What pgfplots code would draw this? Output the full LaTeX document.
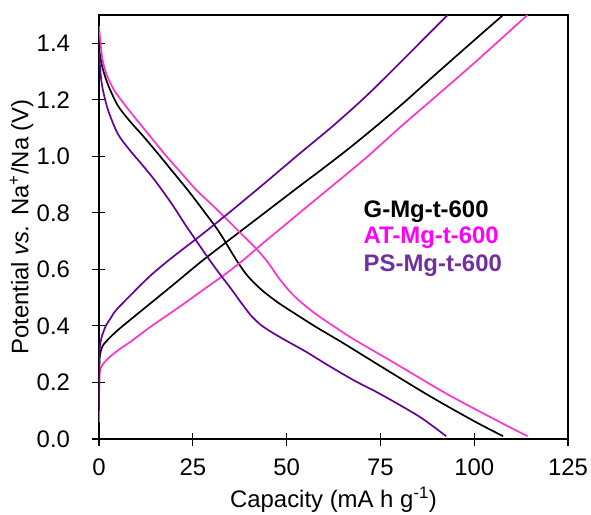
\documentclass[border=0pt]{standalone}
\usepackage{fontspec}
\setmainfont{Liberation Sans}
\usepackage{pgfplots}
\pgfplotsset{compat=1.18}
\definecolor{pinkline}{RGB}{255,51,204}
\definecolor{purpline}{RGB}{102,0,153}
\definecolor{pinktext}{RGB}{255,0,255}
\definecolor{purptext}{RGB}{112,48,160}
\begin{document}
\begin{tikzpicture}
\begin{axis}[
  name=ax,
  scale only axis,
  width=469bp, height=424bp,
  xmin=0, xmax=125, ymin=0, ymax=1.5,
  xtick={0,25,50,75,100,125},
  ytick={0,0.2,0.4,0.6,0.8,1.0,1.2,1.4},
  yticklabel style={/pgf/number format/fixed, /pgf/number format/fixed zerofill, /pgf/number format/precision=1},
  /pgf/number format/assume math mode=true,
  tick align=center,
  major tick length=13bp,
  xtick pos=bottom, ytick pos=left,
  yticklabel shift=19bp,
  xticklabel shift=10bp,
  axis line style={line width=1.1pt},
  every tick/.style={line width=1.1pt, black},
  tick label style={font=\fontsize{24}{28}\selectfont},
  label style={font=\fontsize{24}{28}\selectfont},
  xlabel={Capacity (mA h g\textsuperscript{-1})},
  ylabel={Potential \textit{vs.} Na\textsuperscript{+}/Na (V)},
  xlabel style={at={(axis description cs:0.5,-0.1627)}, anchor=base},
  ylabel style={at={(axis description cs:-0.165,0.5)}, anchor=center},
  clip=true,
]
% G-Mg-t-600 discharge
\addplot[black, line width=1.7pt, smooth] coordinates {
(0,1.39) (0.3,1.355) (1,1.31) (2.5,1.25) (5,1.18) (8,1.128) (12,1.068) (16,1.005) (20,0.94) (24,0.875) (28,0.805) (31,0.752) (33,0.712) (35,0.668) (37,0.625) (39,0.587) (41,0.557) (44,0.52) (48,0.48) (53,0.437) (58,0.395) (65,0.34) (75,0.258) (88,0.153) (100,0.063) (107.7,0.01)
};
% G-Mg-t-600 charge
\addplot[black, line width=1.7pt, smooth] coordinates {
(0,0.12) (0.1,0.26) (0.3,0.30) (1,0.33) (2.7,0.356) (5,0.385) (9,0.429) (14,0.483) (20,0.548) (27,0.625) (33.5,0.692) (40,0.758) (46.5,0.824) (53.5,0.895) (60,0.96) (67,1.032) (74,1.108) (81,1.187) (88,1.27) (97.8,1.385) (107.7,1.5)
};
% AT-Mg-t-600 discharge
\addplot[pinkline, line width=1.7pt, smooth] coordinates {
(0,1.46) (0.3,1.415) (0.9,1.345) (2,1.29) (4,1.235) (7,1.18) (10,1.13) (14,1.065) (18,1.0) (22,0.94) (26,0.88) (30,0.83) (34,0.778) (38,0.725) (42,0.672) (45,0.625) (48,0.568) (51,0.52) (54,0.482) (58,0.44) (63,0.395) (68,0.352) (79,0.267) (92.5,0.161) (105.8,0.067) (114.2,0.01)
};
% AT-Mg-t-600 charge
\addplot[pinkline, line width=1.7pt, smooth] coordinates {
(0,0.06) (0.05,0.18) (0.2,0.235) (0.6,0.255) (1.5,0.272) (3,0.292) (5.5,0.318) (8.5,0.345) (13,0.39) (18,0.436) (23,0.482) (28,0.53) (33,0.577) (38,0.628) (44,0.696) (50,0.762) (56,0.828) (62.3,0.897) (71.2,0.995) (80,1.1) (88.9,1.202) (100,1.33) (114.2,1.5)
};
% PS-Mg-t-600 discharge
\addplot[purpline, line width=1.7pt, smooth] coordinates {
(0,1.37) (0.2,1.33) (0.6,1.27) (1.2,1.225) (2.5,1.16) (5,1.08) (8,1.025) (11,0.978) (14,0.93) (17,0.877) (20,0.82) (23,0.758) (26,0.7) (29,0.642) (32,0.587) (35,0.535) (38,0.48) (40.5,0.437) (43,0.405) (46,0.378) (50,0.347) (55,0.31) (61.4,0.258) (68,0.207) (74.7,0.161) (85.4,0.079) (92.5,0.01)
};
% PS-Mg-t-600 charge
\addplot[purpline, line width=1.7pt, smooth] coordinates {
(0,0.1) (0.05,0.25) (0.2,0.32) (0.7,0.36) (1.8,0.40) (3,0.425) (4.5,0.455) (8.5,0.51) (13.3,0.573) (17.7,0.623) (22.2,0.67) (26.9,0.718) (33.5,0.788) (39.9,0.858) (44.6,0.91) (53.5,1.01) (62.3,1.107) (71.2,1.213) (80,1.328) (85.4,1.40) (92.9,1.5)
};
\node[anchor=base west, inner sep=0, font=\fontsize{24}{28}\selectfont\bfseries, text=black] at (axis cs:70.5,0.785) {G-Mg-t-600};
\node[anchor=base west, inner sep=0, font=\fontsize{24}{28}\selectfont\bfseries, text=pinktext] at (axis cs:70.5,0.691) {AT-Mg-t-600};
\node[anchor=base west, inner sep=0, font=\fontsize{24}{28}\selectfont\bfseries, text=purptext] at (axis cs:70.5,0.591) {PS-Mg-t-600};
\end{axis}
\pgfresetboundingbox
\path[use as bounding box] ([shift={(-99bp,-76bp)}]ax.south west) rectangle ([shift={(23bp,15bp)}]ax.north east);
\end{tikzpicture}
\end{document}
